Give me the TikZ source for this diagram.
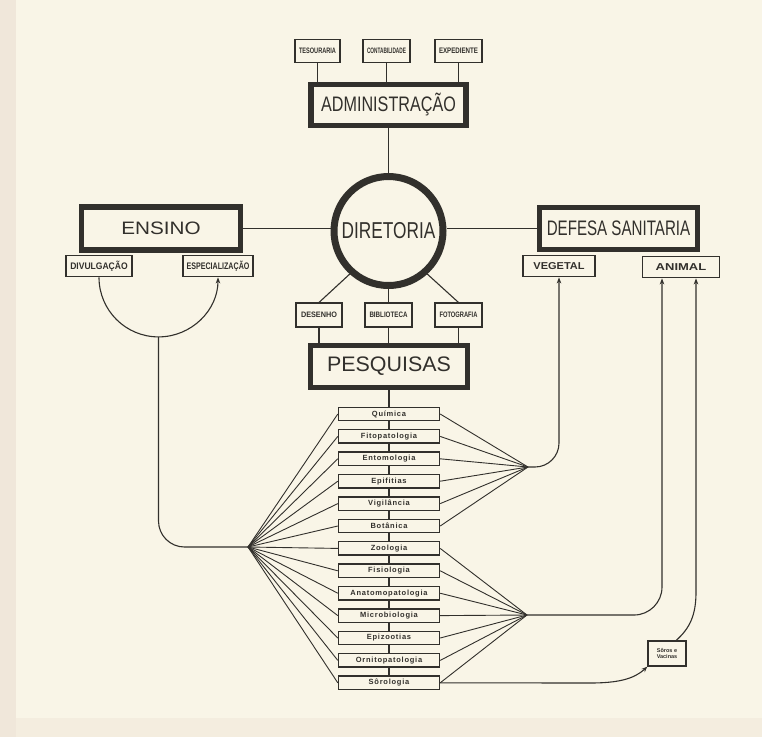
\documentclass[tikz,border=0pt]{standalone}
\usepackage{fontspec}
\setmainfont{Liberation Sans}
\newfontfamily\listfont[LetterSpace=10]{Liberation Sans}
\usepackage{graphicx}
\usetikzlibrary{arrows.meta}
\definecolor{paper}{RGB}{249,245,231}
\definecolor{edge}{RGB}{240,231,218}
\definecolor{ink}{RGB}{50,48,44}
\newcommand{\sq}[3]{\scalebox{#2}[1]{\fontsize{#1}{#1}\selectfont #3}}
\begin{document}
\begin{tikzpicture}[x=1pt,y=-1pt,
  thickbox/.style={draw=ink, line width=5.5pt, fill=paper, inner sep=0pt, text=ink},
  medbox/.style={draw=ink, line width=1.8pt, fill=paper, inner sep=0pt, minimum height=21pt, text=ink, font=\bfseries},
  thinbox/.style={draw=ink, line width=1.1pt, fill=paper, inner sep=0pt, text=ink, font=\bfseries},
  listbox/.style={draw=ink, line width=1.4pt, fill=paper, inner sep=0pt, minimum width=101pt, minimum height=13.5pt, text=ink, font=\listfont\bfseries\fontsize{7.5}{7.5}\selectfont},
  conn/.style={draw=ink, line width=1.1pt},
  arr/.style={conn, -{Stealth[length=6pt,width=4.5pt]}},
]
\fill[paper] (0,0) rectangle (762,737);
\fill[edge] (0,0) rectangle (16,737);
\fill[edge!60!paper] (16,718) rectangle (762,737);
\useasboundingbox (0,0) rectangle (762,737);

% top small boxes
\node[thinbox, minimum width=45pt, minimum height=23pt] (tes) at (317.5,51) {\resizebox{37pt}{5.5pt}{TESOURARIA}};
\node[thinbox, minimum width=47pt, minimum height=23pt] (con) at (386.5,51) {\resizebox{39pt}{5.5pt}{CONTABILIDADE}};
\node[thinbox, minimum width=47pt, minimum height=23pt] (exp) at (458.5,51) {\resizebox{39pt}{5.5pt}{EXPEDIENTE}};

% main boxes
\node[thickbox, minimum width=155pt, minimum height=41pt] (adm) at (388.5,105) {\sq{21}{0.77}{ADMINISTRAÇÃO}};
\node[draw=ink, line width=7pt, circle, minimum size=109pt, inner sep=0pt, fill=paper, text=ink] (dir) at (388.5,231) {\sq{23}{0.75}{DIRETORIA}};
\node[thickbox, minimum width=159pt, minimum height=43pt] (ens) at (161,228.5) {\sq{18}{1.15}{ENSINO}};
\node[thickbox, minimum width=158pt, minimum height=42pt] (def) at (618.5,228.5) {\sq{21}{0.72}{DEFESA SANITARIA}};

\node[medbox, minimum width=66pt] (div) at (99,266) {\sq{9.5}{0.9}{DIVULGAÇÃO}};
\node[medbox, minimum width=70pt] (esp) at (218,266) {\sq{9.5}{0.75}{ESPECIALIZAÇÃO}};
\node[medbox, minimum width=72pt] (veg) at (559,266) {\sq{10}{1.1}{VEGETAL}};
\node[medbox, minimum width=77pt] (ani) at (681,267) {\sq{10}{1.3}{ANIMAL}};

\node[thinbox, minimum width=46pt, minimum height=24pt] (des) at (319,315) {\resizebox{36pt}{5.5pt}{DESENHO}};
\node[thinbox, minimum width=47pt, minimum height=24pt] (bib) at (388.5,315) {\resizebox{38pt}{5.5pt}{BIBLIOTECA}};
\node[thinbox, minimum width=47pt, minimum height=24pt] (fot) at (458.5,315) {\resizebox{38pt}{5.5pt}{FOTOGRAFIA}};

\node[thickbox, minimum width=157pt, minimum height=42pt] (pes) at (389,366.5) {\sq{21}{1.02}{PESQUISAS}};

\foreach \i/\t in {0/Química,1/Fitopatologia,2/Entomologia,3/Epifitias,4/Vigilância,5/Botânica,6/Zoologia,7/Fisiologia,8/Anatomopatologia,9/Microbiologia,10/Epizootias,11/Ornitopatologia,12/Sôrologia}
  \node[listbox] (q\i) at (389,{414+22.4*\i}) {\t};

\node[thinbox, minimum width=38pt, minimum height=25pt, align=center, font=\bfseries\fontsize{5.5}{6.5}\selectfont] (sv) at (667,653.5) {Sôros e\\Vacinas};

% coordinates
\coordinate (fl) at (248,547);
\coordinate (fu) at (528,467);
\coordinate (fd) at (527,615);
\coordinate (a1) at (662,0);
\coordinate (a2) at (696,0);

% connectors
\foreach \n in {tes,con,exp} \draw[conn] (\n.south) -- (\n.south |- adm.north);
\draw[conn] (adm.south) -- (dir.north);
\draw[conn] (ens.east) -- (ens.east -| dir.west);
\draw[conn] (def.west) -- (def.west -| dir.east);
\draw[conn] (dir.228) -- (des.north);
\draw[conn] (dir.south) -- (bib.north);
\draw[conn] (dir.-48) -- (fot.north);
\foreach \n in {des,bib,fot} \draw[conn] (\n.south) -- (\n.south |- pes.north);
\draw[conn] (pes.south) -- (q0.north);
\foreach \i [evaluate=\i as \j using int(\i+1)] in {0,...,11} \draw[conn] (q\i.south) -- (q\j.north);

\foreach \i in {0,...,12} \draw[conn, line width=0.9pt] (fl) -- (q\i.west);
\foreach \i in {0,...,5} \draw[conn, line width=0.9pt] (fu) -- (q\i.east);
\foreach \i in {6,...,12} \draw[conn, line width=0.9pt] (fd) -- (q\i.east);

\draw[arr] (div.south) arc[start angle=180, end angle=0, radius=59.5];
\draw[conn, rounded corners=26pt] (158.5,337) -- (158.5,547) -- (fl);
\draw[arr, rounded corners=24pt] (fu) -- (559,467) -- (veg.south);
\draw[arr, rounded corners=28pt] (fd) -- (662,615) -- (ani.south -| a1);
\draw[arr] (q12.east) -- (590,683) .. controls (618,683) and (634,679) .. (sv.south west);
\draw[arr] (sv.55) .. controls (690,628) and (696,615) .. (696,592) -- (ani.south -| a2);
\end{tikzpicture}
\end{document}
